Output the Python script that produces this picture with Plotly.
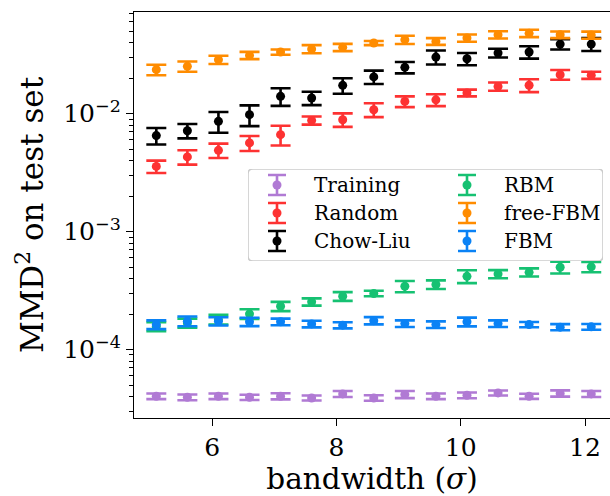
import plotly.graph_objects as go

# bandwidth values (sigma)
bandwidth = [5.1, 5.6, 6.1, 6.6, 7.1, 7.6, 8.1, 8.6, 9.1, 9.6, 10.1, 10.6, 11.1, 11.6, 12.1]

# MMD^2 on the test set and its spread, per model
training = [4.02e-5, 3.94e-5, 4.02e-5, 3.94e-5, 4.02e-5, 3.89e-5, 4.21e-5, 3.89e-5,
            4.17e-5, 4.02e-5, 4.10e-5, 4.29e-5, 4.02e-5, 4.25e-5, 4.21e-5]
training_err = [2.2e-6, 2.2e-6, 2.2e-6, 2.0e-6, 2.4e-6, 1.9e-6, 2.5e-6, 2.1e-6,
                2.9e-6, 2.2e-6, 2.3e-6, 2.1e-6, 2.0e-6, 2.6e-6, 2.5e-6]

random_ = [3.57e-3, 4.30e-3, 4.89e-3, 5.65e-3, 6.64e-3, 8.77e-3, 8.89e-3, 1.08e-2,
           1.27e-2, 1.31e-2, 1.50e-2, 1.70e-2, 1.74e-2, 2.14e-2, 2.12e-2]
random_err = [4.3e-4, 6.0e-4, 6.8e-4, 8.2e-4, 1.26e-3, 7.0e-4, 1.16e-3, 1.46e-3,
              1.33e-3, 1.51e-3, 9.8e-4, 1.36e-3, 2.18e-3, 2.03e-3, 1.48e-3]

chow_liu = [6.52e-3, 7.17e-3, 8.61e-3, 9.81e-3, 1.403e-2, 1.358e-2, 1.738e-2, 2.05e-2,
            2.47e-2, 3.02e-2, 2.92e-2, 3.27e-2, 3.33e-2, 3.89e-2, 3.89e-2]
chow_liu_err = [1.04e-3, 1.0e-3, 1.72e-3, 1.96e-3, 2.39e-3, 1.77e-3, 2.61e-3, 2.67e-3,
                2.72e-3, 4.08e-3, 3.5e-3, 2.78e-3, 4.0e-3, 3.89e-3, 4.86e-3]

rbm = [1.57e-4, 1.68e-4, 1.80e-4, 2.01e-4, 2.33e-4, 2.54e-4, 2.83e-4, 2.99e-4,
       3.44e-4, 3.56e-4, 4.18e-4, 4.37e-4, 4.52e-4, 4.99e-4, 5.03e-4]
rbm_err = [1.4e-5, 1.5e-5, 1.7e-5, 1.9e-5, 2.1e-5, 1.8e-5, 2.4e-5, 1.6e-5,
           3.8e-5, 3.0e-5, 5.2e-5, 3.5e-5, 3.6e-5, 5.7e-5, 5.0e-5]

free_fbm = [0.0236, 0.0252, 0.0287, 0.0312, 0.0333, 0.0353, 0.0365, 0.0397,
            0.0424, 0.0410, 0.0438, 0.0467, 0.0480, 0.0467, 0.0464]
free_fbm_err = [2.4e-3, 2.5e-3, 2.3e-3, 2.2e-3, 1.7e-3, 2.8e-3, 2.6e-3, 1.6e-3,
                3.4e-3, 2.7e-3, 3.1e-3, 3.3e-3, 3.4e-3, 3.0e-3, 3.2e-3]

fbm = [1.63e-4, 1.74e-4, 1.74e-4, 1.72e-4, 1.72e-4, 1.65e-4, 1.61e-4, 1.76e-4,
       1.66e-4, 1.63e-4, 1.72e-4, 1.66e-4, 1.63e-4, 1.55e-4, 1.56e-4]
fbm_err = [1.4e-5, 1.65e-5, 1.4e-5, 1.4e-5, 1.1e-5, 1.07e-5, 9.7e-6, 1.23e-5,
           1.08e-5, 1.06e-5, 1.46e-5, 1.08e-5, 8.2e-6, 9.3e-6, 8.6e-6]

series = [
    ("Training", training, training_err, "#b07ad4"),
    ("Random", random_, random_err, "#fd3232"),
    ("Chow-Liu", chow_liu, chow_liu_err, "#000000"),
    ("RBM", rbm, rbm_err, "#16c172"),
    ("free-FBM", free_fbm, free_fbm_err, "#ff8c00"),
    ("FBM", fbm, fbm_err, "#0a82f5"),
]

SERIF = "DejaVu Serif"

fig = go.Figure()
for name, vals, errs, color in series:
    fig.add_trace(go.Scatter(
        x=bandwidth, y=vals, mode="markers", name=name, showlegend=False,
        marker=dict(color=color, size=9, line=dict(width=0)),
        error_y=dict(type="data", array=errs, visible=True, color=color,
                     thickness=2.6, width=10),
    ))

# hand-built legend with error-bar glyphs, in a small pixel-unit overlay
LW, LH = 355, 92
for i, (name, vals, errs, color) in enumerate(series):
    col, row = divmod(i, 3)
    gx = 29 + col * 190
    gy = 16 + row * 28
    fig.add_trace(go.Scatter(
        x=[gx], y=[gy], mode="markers", showlegend=False, hoverinfo="skip",
        xaxis="x2", yaxis="y2",
        marker=dict(color=color, size=9),
        error_y=dict(type="constant", value=10, visible=True, color=color,
                     thickness=2.6, width=9),
    ))
    fig.add_annotation(x=gx + 35, y=gy, xref="x2", yref="y2", text=name,
                       showarrow=False, xanchor="left", yanchor="middle",
                       font=dict(family=SERIF, size=20, color="black"))

r = 5
fig.add_shape(
    type="path", xref="x2", yref="y2", layer="below",
    path=(f"M {r},0 L {LW - r},0 Q {LW},0 {LW},{r} L {LW},{LH - r} "
          f"Q {LW},{LH} {LW - r},{LH} L {r},{LH} Q 0,{LH} 0,{LH - r} "
          f"L 0,{r} Q 0,0 {r},0 Z"),
    fillcolor="rgba(255,255,255,0.8)", line=dict(color="#cccccc", width=1.6),
)

ML, MT, MB = 134, 12, 78
W, H = 610, 496
PW, PH = W - ML, H - MT - MB
lx0, ly0 = 248, 169
leg_x = [(lx0 - ML) / PW, (lx0 + LW - ML) / PW]
leg_y = [(H - MB - (ly0 + LH)) / PH, (H - MB - ly0) / PH]

fig.update_layout(
    width=W, height=H,
    margin=dict(l=ML, r=0, t=MT, b=MB),
    paper_bgcolor="white", plot_bgcolor="white",
    font=dict(family=SERIF, size=25, color="black"),
    xaxis=dict(
        range=[4.741, 12.402], tickvals=[6, 8, 10, 12],
        ticks="outside", ticklen=7, tickwidth=1.3, tickcolor="black",
        showline=True, linecolor="black", linewidth=1.3, mirror=True,
        showgrid=False, zeroline=False,
        tickfont=dict(family=SERIF, size=25),
        title=dict(text="bandwidth (<i>σ</i>)", font=dict(family=SERIF, size=29.5),
                   standoff=6),
    ),
    yaxis=dict(
        type="log", range=[-4.580, -1.138],
        tickvals=[1e-4, 1e-3, 1e-2],
        ticktext=["10<sup>−4</sup>", "10<sup>−3</sup>", "10<sup>−2</sup>"],
        ticks="outside", ticklen=7, tickwidth=1.3, tickcolor="black",
        minor=dict(ticks="outside", ticklen=4, tickwidth=1.1, tickcolor="black",
                   dtick="D1", showgrid=False),
        showline=True, linecolor="black", linewidth=1.3, mirror=False,
        showgrid=False, zeroline=False,
        tickfont=dict(family=SERIF, size=25),
        title=dict(text="MMD<sup>2</sup> on test set", font=dict(family=SERIF, size=31),
                   standoff=10),
    ),
    xaxis2=dict(domain=leg_x, range=[0, LW], visible=False, fixedrange=True,
                anchor="y2"),
    yaxis2=dict(domain=leg_y, range=[LH, 0], visible=False, fixedrange=True,
                anchor="x2"),
)

fig.write_html("out.html")
